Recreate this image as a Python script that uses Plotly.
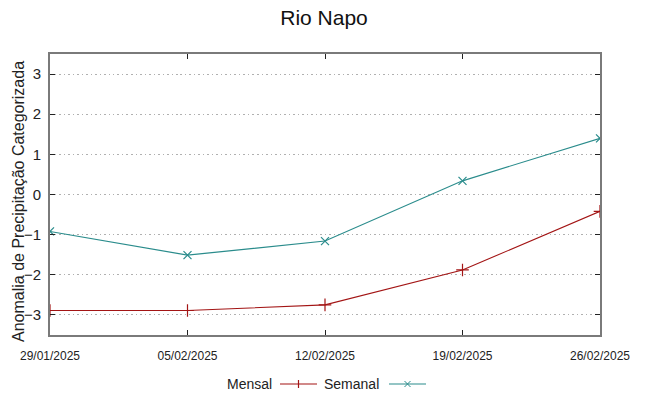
import plotly.graph_objects as go

dates = ["2025-01-29", "2025-02-05", "2025-02-12", "2025-02-19", "2025-02-26"]
tick_labels = ["29/01/2025", "05/02/2025", "12/02/2025", "19/02/2025", "26/02/2025"]
mensal = [-2.89, -2.89, -2.75, -1.88, -0.42]
semanal = [-0.92, -1.51, -1.16, 0.34, 1.40]

C_MENSAL = "#a31515"
C_SEMANAL = "#2a8c8c"
REG = "Liberation Sans, Arial, sans-serif"

W, H = 648, 396
L, R, T, B = 50, 48, 54, 61
pw, ph = W - L - R, H - T - B

def px(x):
    return (x - L) / pw

def py(y):
    return (H - B - y) / ph

fig = go.Figure()
fig.add_trace(go.Scatter(x=dates, y=mensal, mode="lines+markers", name="Mensal",
                         line=dict(color=C_MENSAL, width=1.1),
                         marker=dict(symbol="cross-thin", size=9, line=dict(color=C_MENSAL, width=1.2)),
                         showlegend=False))
fig.add_trace(go.Scatter(x=dates, y=semanal, mode="lines+markers", name="Semanal",
                         line=dict(color=C_SEMANAL, width=1.1),
                         marker=dict(symbol="x-thin", size=8, line=dict(color=C_SEMANAL, width=1.2)),
                         showlegend=False))

shapes = []
annotations = []
# legend (gnuplot style: text then sample)
ly = 384
annotations.append(dict(x=px(274), y=py(ly), xref="paper", yref="paper", text="Mensal",
                        showarrow=False, xanchor="right", yanchor="middle",
                        font=dict(family=REG, size=14, color="#222")))
shapes.append(dict(type="line", xref="paper", yref="paper", x0=px(280), x1=px(317), y0=py(ly), y1=py(ly),
                   line=dict(color=C_MENSAL, width=1.2)))
shapes.append(dict(type="line", xref="paper", yref="paper", x0=px(298.5), x1=px(298.5), y0=py(ly - 4), y1=py(ly + 4),
                   line=dict(color=C_MENSAL, width=1.2)))
annotations.append(dict(x=px(381), y=py(ly), xref="paper", yref="paper", text="Semanal",
                        showarrow=False, xanchor="right", yanchor="middle",
                        font=dict(family=REG, size=14, color="#222")))
shapes.append(dict(type="line", xref="paper", yref="paper", x0=px(389), x1=px(426), y0=py(ly), y1=py(ly),
                   line=dict(color=C_SEMANAL, width=1.2)))
shapes.append(dict(type="line", xref="paper", yref="paper", x0=px(404.5), x1=px(410.5), y0=py(ly - 3), y1=py(ly + 3),
                   line=dict(color=C_SEMANAL, width=1)))
shapes.append(dict(type="line", xref="paper", yref="paper", x0=px(404.5), x1=px(410.5), y0=py(ly + 3), y1=py(ly - 3),
                   line=dict(color=C_SEMANAL, width=1)))
# y axis title
annotations.append(dict(x=px(18), y=py(202), xref="paper", yref="paper",
                        text="Anomalia de Precipitação Categorizada", textangle=-90,
                        showarrow=False, xanchor="center", yanchor="middle",
                        font=dict(family=REG, size=16, color="#222")))

fig.update_layout(
    width=W, height=H,
    margin=dict(l=L, r=R, t=T, b=B),
    paper_bgcolor="white", plot_bgcolor="white",
    title=dict(text="Rio Napo", x=0.5, xanchor="center", y=1 - 18 / H, yanchor="middle",
               font=dict(family=REG, size=21, color="#111")),
    shapes=shapes, annotations=annotations,
    showlegend=False,
)
fig.update_xaxes(
    type="date", range=[dates[0], dates[-1]],
    tickvals=dates, ticktext=tick_labels,
    ticks="inside", ticklen=5, tickcolor="#222", tickwidth=1.2,
    showgrid=False, zeroline=False,
    showline=True, linecolor="#7a7a7a", linewidth=2, mirror="ticks",
    tickfont=dict(family=REG, size=12, color="#222"),
    ticklabelstandoff=9,
)
fig.update_yaxes(
    range=[-3.5, 3.5], tickvals=[-3, -2, -1, 0, 1, 2, 3],
    ticks="inside", ticklen=5, tickcolor="#222", tickwidth=1.2,
    showgrid=True, gridcolor="#b0b0b0", griddash="1.5px,3px", gridwidth=1,
    zeroline=False,
    showline=True, linecolor="#7a7a7a", linewidth=2, mirror="ticks",
    tickfont=dict(family=REG, size=15, color="#222"),
    ticklabelstandoff=4,
)
fig.write_html("out.html", config={"displayModeBar": False},
               post_script="document.body.style.margin='0';document.body.style.padding='0';")
